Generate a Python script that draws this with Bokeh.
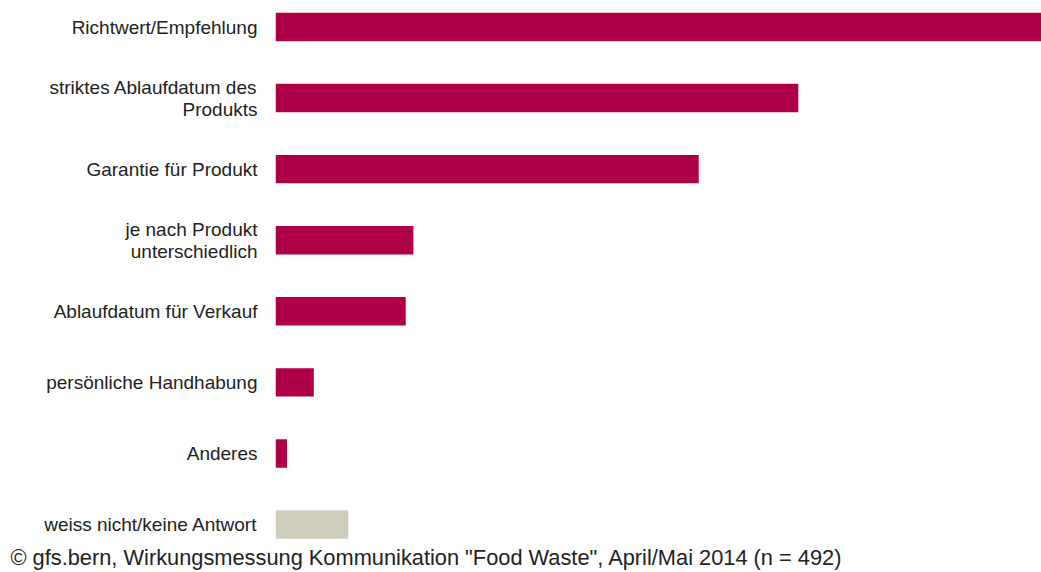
from bokeh.plotting import figure
from bokeh.models import Range1d, FixedTicker, Title
from bokeh.embed import file_html
from bokeh.resources import INLINE

categories = [
    "Richtwert/Empfehlung",
    "striktes Ablaufdatum des\nProdukts",
    "Garantie für Produkt",
    "je nach Produkt\nunterschiedlich",
    "Ablaufdatum für Verkauf",
    "persönliche Handhabung",
    "Anderes",
    "weiss nicht/keine Antwort",
]
values = [40.0, 27.3, 22.1, 7.2, 6.8, 2.0, 0.6, 3.8]
colors = ["#AE0046"] * 7 + ["#CFCDBC"]
footer = '© gfs.bern, Wirkungsmessung Kommunikation "Food Waste", April/Mai 2014 (n = 492)'

idx = list(range(len(categories)))

p = figure(width=1041, height=572, output_backend="svg", toolbar_location=None,
           x_range=Range1d(0, max(values)), y_range=Range1d(7.253, -0.373),
           min_border_left=275, min_border_right=0, min_border_top=0, min_border_bottom=30,
           outline_line_color=None)
p.hbar(y=idx, left=0, right=values, height=0.4, fill_color=colors, line_color=None)

p.xaxis.visible = False
p.xgrid.visible = False
p.ygrid.visible = False
ax = p.yaxis[0]
ax.ticker = FixedTicker(ticks=idx)
ax.major_label_overrides = {i: c for i, c in zip(idx, categories)}
ax.axis_line_color = None
ax.major_tick_line_color = None
ax.minor_tick_line_color = None
ax.major_label_standoff = 12
ax.major_label_text_font = "Liberation Sans"
ax.major_label_text_font_size = "19px"
ax.major_label_text_line_height = 1.05
ax.major_label_text_color = "#222222"

t = Title(text=footer, text_font="Liberation Sans", text_font_size="21.8px",
          text_font_style="normal", text_color="#222222", align="left", offset=-265,
          standoff=0)
p.add_layout(t, "below")

open("out.html", "w").write(file_html(p, INLINE))
